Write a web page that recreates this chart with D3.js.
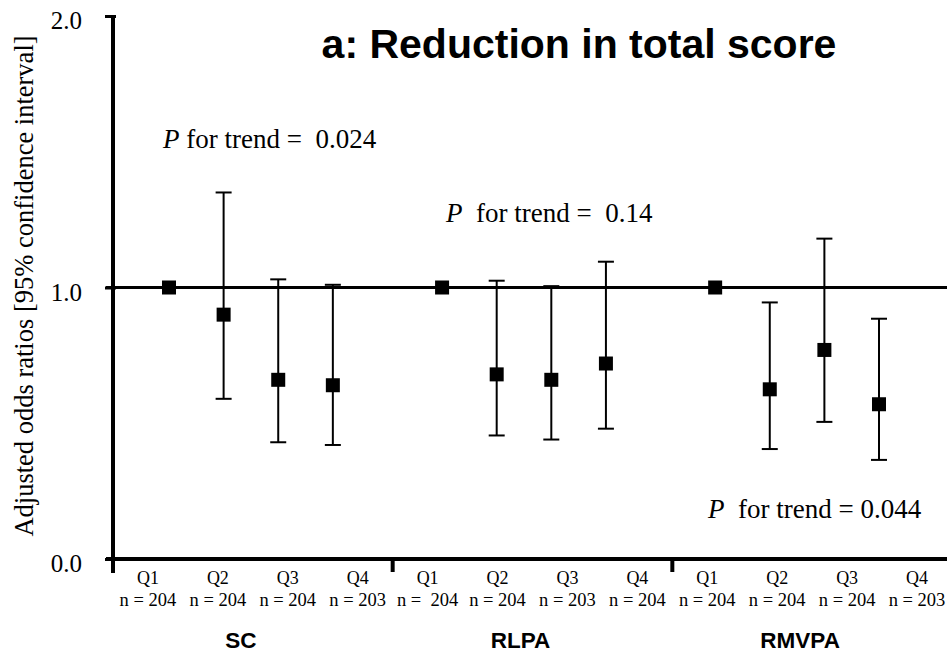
<!DOCTYPE html>
<html>
<head>
<meta charset="utf-8">
<script src="https://cdn.jsdelivr.net/npm/d3@7/dist/d3.min.js"></script>
<style>
  html, body { margin: 0; padding: 0; background: #fff; }
  svg { display: block; }
</style>
</head>
<body>
<svg id="chart" width="947" height="657"></svg>
<script>
// Physical activity groups and quartiles
const groups = ["SC", "RLPA", "RMVPA"];
const quartiles = ["Q1", "Q2", "Q3", "Q4"];

// Sample size labels per quartile
const scN = ["n = 204", "n = 204", "n = 204", "n = 203"];
const rlpaN = ["n =  204", "n = 204", "n = 203", "n = 204"];
const rmvpaN = ["n = 204", "n = 204", "n = 204", "n = 203"];

// Adjusted odds ratios with 95% CI (Q1 is the reference)
const scOR = [1.0, 0.90, 0.66, 0.64];
const scLower = [null, 0.59, 0.43, 0.42];
const scUpper = [null, 1.35, 1.03, 1.01];

const rlpaOR = [1.0, 0.68, 0.66, 0.72];
const rlpaLower = [null, 0.455, 0.44, 0.48];
const rlpaUpper = [null, 1.025, 1.005, 1.095];

const rmvpaOR = [1.0, 0.625, 0.77, 0.57];
const rmvpaLower = [null, 0.405, 0.505, 0.365];
const rmvpaUpper = [null, 0.945, 1.18, 0.885];

// P for trend per group
const pTrend = ["P for trend =  0.024", "P  for trend =  0.14", "P  for trend = 0.044"];

const yTicks = [0, 1, 2];

const svg = d3.select("#chart");
const serif = "'Liberation Serif', 'Times New Roman', serif";
const sans = "'Liberation Sans', Arial, sans-serif";

const y = d3.scaleLinear().domain([0, 2]).range([559, 16]);
// points sit on a slot grid with an empty slot between groups
const slot = d3.scaleLinear().domain([0, 13]).range([169, 879]);
const groupBand = d3.scaleBand().domain(groups).range([113, 952]);
const qBand = d3.scaleBand().domain(quartiles).range([0, groupBand.bandwidth()]);

const nLabels = [scN, rlpaN, rmvpaN];
const ors = [scOR, rlpaOR, rmvpaOR];
const lows = [scLower, rlpaLower, rmvpaLower];
const ups = [scUpper, rlpaUpper, rmvpaUpper];

const rows = [];
groups.forEach((g, gi) => {
  quartiles.forEach((q, qi) => {
    rows.push({ g, gi, q, qi, or: ors[gi][qi], lo: lows[gi][qi], hi: ups[gi][qi], n: nLabels[gi][qi] });
  });
});
const xPos = d => slot(d.gi * 5 + d.qi);

// Reference line at OR = 1
svg.append("line")
  .attr("x1", 106).attr("x2", 947)
  .attr("y1", y(1)).attr("y2", y(1))
  .attr("stroke", "#000").attr("stroke-width", 3);

// Y axis
const yAxis = d3.axisLeft(y).tickValues(yTicks).tickFormat(d3.format(".1f")).tickSize(8).tickPadding(23);
const yG = svg.append("g").attr("transform", "translate(113,0)").call(yAxis);
yG.select(".domain").attr("stroke-width", 4).attr("d", `M0,${y(2) - 1}V${573}`);
yG.selectAll(".tick line").attr("stroke-width", 3).attr("x1", 3);
yG.selectAll(".tick text").attr("font-family", serif).attr("font-size", 25).attr("fill", "#000")
  .attr("dy", "0.5em");

// X axis line and group separators
svg.append("line")
  .attr("x1", 106).attr("x2", 947).attr("y1", y(0)).attr("y2", y(0))
  .attr("stroke", "#000").attr("stroke-width", 4);
svg.selectAll(".sep").data(groups.slice(1)).join("line")
  .attr("class", "sep")
  .attr("x1", g => groupBand(g)).attr("x2", g => groupBand(g))
  .attr("y1", y(0)).attr("y2", 572)
  .attr("stroke", "#000").attr("stroke-width", 4);

// Error bars
const withCI = rows.filter(d => d.lo !== null);
svg.selectAll(".ci").data(withCI).join("line")
  .attr("class", "ci")
  .attr("x1", xPos).attr("x2", xPos)
  .attr("y1", d => y(d.lo)).attr("y2", d => y(d.hi))
  .attr("stroke", "#000").attr("stroke-width", 2);
["lo", "hi"].forEach(k => {
  svg.selectAll(".cap-" + k).data(withCI).join("line")
    .attr("class", "cap-" + k)
    .attr("x1", d => xPos(d) - 8).attr("x2", d => xPos(d) + 8)
    .attr("y1", d => y(d[k])).attr("y2", d => y(d[k]))
    .attr("stroke", "#000").attr("stroke-width", 2);
});

// Point estimates
svg.selectAll(".pt").data(rows).join("rect")
  .attr("class", "pt")
  .attr("x", d => xPos(d) - 7).attr("y", d => y(d.or) - 7)
  .attr("width", 14).attr("height", 14)
  .attr("fill", "#000");

// Quartile and sample size labels
const qx = d => groupBand(d.g) + qBand(d.q) + qBand.bandwidth() / 2;
svg.selectAll(".qlab").data(rows).join("text")
  .attr("class", "qlab")
  .attr("x", qx).attr("y", 584)
  .attr("text-anchor", "middle")
  .attr("font-family", serif).attr("font-size", 18)
  .text(d => d.q);
svg.selectAll(".nlab").data(rows).join("text")
  .attr("class", "nlab")
  .attr("x", qx).attr("y", 606)
  .attr("text-anchor", "middle")
  .attr("font-family", serif).attr("font-size", 18.5)
  .style("white-space", "pre")
  .text(d => d.n);

// Group labels
svg.selectAll(".glab").data(groups).join("text")
  .attr("class", "glab")
  .attr("x", g => groupBand(g) + groupBand.bandwidth() / 2 - 12)
  .attr("y", 648)
  .attr("text-anchor", "middle")
  .attr("font-family", sans).attr("font-weight", "bold").attr("font-size", 22.5)
  .text(g => g);

// Y axis title
svg.append("text")
  .attr("transform", "translate(33,286) rotate(-90)")
  .attr("text-anchor", "middle")
  .attr("font-family", serif).attr("font-size", 26.5)
  .text("Adjusted odds ratios [95% confidence interval]");

// Panel title
svg.append("text")
  .attr("x", 579).attr("y", 58)
  .attr("text-anchor", "middle")
  .attr("font-family", sans).attr("font-weight", "bold").attr("font-size", 41)
  .text("a: Reduction in total score");

// P for trend annotations
const pPos = [[163, 148], [446, 222], [708, 518]];
pTrend.forEach((t, i) => {
  const txt = svg.append("text")
    .attr("x", pPos[i][0]).attr("y", pPos[i][1])
    .attr("font-family", serif).attr("font-size", 27)
    .style("white-space", "pre");
  txt.append("tspan").attr("font-style", "italic").text(t.slice(0, 1));
  txt.append("tspan").text(t.slice(1));
});
</script>
</body>
</html>
